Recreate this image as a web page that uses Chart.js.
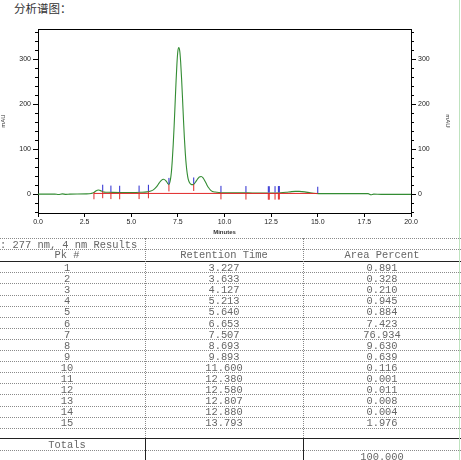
<!DOCTYPE html>
<html>
<head>
<meta charset="utf-8">
<script src="https://cdn.jsdelivr.net/npm/chart.js@4.4.1/dist/chart.umd.min.js"></script>
<style>
  html, body { margin: 0; padding: 0; background: #fff; width: 461px; height: 460px; overflow: hidden; }
  #heading { position: absolute; left: 14px; top: 0px; font: 11.5px "Noto Sans CJK SC", sans-serif; color: #333; line-height: 17px; }
  #plot { position: absolute; left: 0; top: 20px; width: 461px; height: 216px; }
  #results { position: absolute; left: 0; top: 0; width: 461px; height: 460px; font: 10.4px "Liberation Mono", monospace; color: #666; }
  .hd { position: absolute; left: 0; width: 461px; height: 0; border-top: 1px dotted #8a8a8a; }
  .hs { position: absolute; left: 0; width: 461px; height: 0; border-top: 1px solid #222; }
  .vd { position: absolute; width: 0; border-left: 1px dotted #8a8a8a; }
  .vs { position: absolute; width: 0; border-left: 1px solid #222; }
  .c { position: absolute; height: 12px; line-height: 12px; text-align: center; white-space: pre; }
  #edge { position: absolute; left: 459px; top: 0; width: 1px; height: 460px; background: #bfe3bf; }
</style>
</head>
<body>
<div id="heading">分析谱图：</div>
<div id="plot"><canvas id="chrom" width="461" height="216"></canvas></div>
<div id="results"></div>
<div id="edge"></div>
<script>
// Detector trace (minutes, mAU)
const timeMin = [0, 0.9, 1.1, 1.3, 1.5, 1.7, 2.6, 2.85, 3.0, 3.1, 3.25, 3.4, 3.55, 3.8, 4.4, 5.0, 5.5, 5.85,
  6.05, 6.2, 6.35, 6.5, 6.6, 6.73, 6.85, 6.95, 7.02, 7.10, 7.15, 7.20, 7.25, 7.30, 7.35, 7.40, 7.45, 7.50,
  7.55, 7.60, 7.65, 7.70, 7.75, 7.80, 7.85, 7.90, 7.95, 8.00, 8.05, 8.12, 8.20, 8.28, 8.35, 8.45, 8.55,
  8.65, 8.75, 8.85, 8.95, 9.05, 9.15, 9.25, 9.35, 9.5, 9.7, 10.0, 10.5, 11.0, 11.5, 12.0, 12.5, 13.0,
  13.3, 13.6, 13.8, 14.0, 14.3, 14.6, 14.9, 15.2, 16.0, 17.0, 17.7, 17.85, 18.0, 18.4, 19.0, 20.0];
const signalMAU = [0, 0, -1, 0.5, -0.5, 0, 0.5, 1.5, 3.5, 7, 9, 7, 4.5, 4, 3.5, 3.5, 4, 5,
  7, 10, 16, 25, 30, 33, 30, 24, 21, 32, 48, 75, 110, 152, 200, 248, 290, 318,
  326, 318, 293, 256, 212, 166, 124, 90, 64, 46, 34, 26, 22, 21, 22, 27, 33,
  38, 39, 36, 29, 21, 14, 9, 6, 4.5, 3.5, 3, 3, 3, 2.5, 2.5, 2.5, 3,
  4, 5.5, 6, 6, 5, 3, 1.5, 1, 1, 1, 1, -1.5, 0, -0.5, -0.5, -0.5];

// Integration baseline and peak boundary marks
const baselineTimes = [3.0, 15.0];
const baselineMAU = [1.5, 1.5];
const peakStartEnd = [3.47, 3.91, 4.38, 5.42, 5.92, 7.02, 8.35, 9.81, 11.15, 12.35, 12.40, 12.71, 12.89, 12.94];
const redOnlyMarks = [3.0];
const blueOnlyMarks = [15.0];

// Axis ticks
const xTicks = [0, 2.5, 5, 7.5, 10, 12.5, 15, 17.5, 20];
const yTicks = [0, 100, 200, 300];
const yMinorTicks = [-40, -20, 20, 40, 60, 80, 120, 140, 160, 180, 220, 240, 260, 280, 320, 340, 360];

// Results table
const resultsCaption = ': 277 nm, 4 nm Results';
const columnHeads = ['Pk #', 'Retention Time', 'Area Percent'];
const peakNo = [1, 2, 3, 4, 5, 6, 7, 8, 9, 10, 11, 12, 13, 14, 15];
const retentionTime = [3.227, 3.633, 4.127, 5.213, 5.640, 6.653, 7.507, 8.693, 9.893, 11.600, 12.380, 12.580, 12.807, 12.880, 13.793];
const areaPercent = [0.891, 0.328, 0.210, 0.945, 0.884, 7.423, 76.934, 9.630, 0.639, 0.116, 0.001, 0.011, 0.008, 0.004, 1.976];
const totalsLabel = 'Totals';
const totalArea = 100.000;

function signalAt(t) {
  for (let i = 1; i < timeMin.length; i++) {
    if (t <= timeMin[i]) {
      const f = (t - timeMin[i - 1]) / (timeMin[i] - timeMin[i - 1]);
      return signalMAU[i - 1] + f * (signalMAU[i] - signalMAU[i - 1]);
    }
  }
  return signalMAU[signalMAU.length - 1];
}

// blue ticks rise above the trace, red ticks drop below it
function markSegments(times, above) {
  const pts = [];
  times.forEach(t => {
    const v = signalAt(t);
    if (above) { pts.push({ x: t, y: v + 1 }, { x: t, y: v + 15 }); }
    else { pts.push({ x: t, y: v - 15 }, { x: t, y: v }); }
    pts.push({ x: t, y: null });
  });
  return pts;
}

const blueTimes = peakStartEnd.concat(blueOnlyMarks);
const redTimes = redOnlyMarks.concat(peakStartEnd);

const minorTickPlugin = {
  id: 'minorTicks',
  afterDraw(chart) {
    const ctx = chart.ctx;
    ctx.save();
    ctx.strokeStyle = '#000';
    ctx.lineWidth = 1;
    ['y', 'y2'].forEach(id => {
      const s = chart.scales[id];
      yMinorTicks.forEach(v => {
        const py = Math.round(s.getPixelForValue(v)) + 0.5;
        ctx.beginPath();
        if (s.position === 'left') { ctx.moveTo(s.right - 3, py); ctx.lineTo(s.right, py); }
        else { ctx.moveTo(s.left, py); ctx.lineTo(s.left + 3, py); }
        ctx.stroke();
      });
    });
    const a = chart.chartArea;
    ctx.beginPath();
    ctx.moveTo(a.left, Math.round(a.top) + 0.5);
    ctx.lineTo(a.right, Math.round(a.top) + 0.5);
    ctx.stroke();
    ctx.restore();
  }
};

const tickFont = { family: 'Liberation Sans', size: 7 };
const yAxisCommon = {
  type: 'linear', min: -42, max: 367,
  afterBuildTicks: s => { s.ticks = yTicks.map(v => ({ value: v })); },
  ticks: { font: tickFont, color: '#222', padding: 2 },
  grid: { drawOnChartArea: false, tickLength: 5, color: '#000' },
  border: { display: true, color: '#000', width: 1 },
  title: { display: true, text: 'mAU', font: { family: 'Liberation Sans', size: 6 }, color: '#333', padding: 0 }
};

new Chart(document.getElementById('chrom'), {
  type: 'line',
  data: {
    datasets: [
      {
        label: 'signal',
        data: timeMin.map((t, i) => ({ x: t, y: signalMAU[i] })),
        borderColor: '#338c33', borderWidth: 1.1, pointRadius: 0,
        cubicInterpolationMode: 'monotone', order: 1
      },
      {
        label: 'baseline',
        data: baselineTimes.map((t, i) => ({ x: t, y: baselineMAU[i] })),
        borderColor: '#e02828', borderWidth: 1, pointRadius: 0, order: 0
      },
      {
        label: 'start/end',
        data: markSegments(blueTimes, true),
        borderColor: '#2a2ad0', borderWidth: 1, pointRadius: 0, spanGaps: false, order: 0
      },
      {
        label: 'drop',
        data: markSegments(redTimes, false),
        borderColor: '#e02828', borderWidth: 1, pointRadius: 0, spanGaps: false, order: 0
      }
    ]
  },
  options: {
    responsive: false, animation: false, devicePixelRatio: 1,
    layout: { padding: { top: 9, right: 10, left: 0, bottom: 0 } },
    plugins: { legend: { display: false }, tooltip: { enabled: false } },
    scales: {
      x: {
        type: 'linear', min: 0, max: 20, position: 'bottom',
        afterBuildTicks: s => { s.ticks = xTicks.map(v => ({ value: v })); },
        afterFit: s => { s.height = 23; },
        ticks: { font: tickFont, color: '#222', padding: 1, maxRotation: 0, autoSkip: false, callback: v => Number(v).toFixed(1) },
        grid: { drawOnChartArea: false, tickLength: 4, color: '#000' },
        border: { display: true, color: '#000', width: 1 },
        title: { display: true, text: 'Minutes', font: { family: 'Liberation Sans', size: 6, weight: 'bold' }, color: '#333', padding: { top: 0, bottom: 0 } }
      },
      y: Object.assign({}, yAxisCommon, { position: 'left', afterFit: s => { s.width = 38; } }),
      y2: Object.assign({}, yAxisCommon, { position: 'right', afterFit: s => { s.width = 40; } })
    }
  },
  plugins: [minorTickPlugin]
});

// Results table below the chromatogram
(function buildTable() {
  const root = document.getElementById('results');
  const add = (cls, style, text) => {
    const d = document.createElement('div');
    d.className = cls;
    Object.assign(d.style, style);
    if (text !== undefined) d.textContent = text;
    root.appendChild(d);
  };
  const cols = [{ l: -11, w: 156 }, { l: 145, w: 158 }, { l: 303, w: 158 }];
  const rowH = 11.1;
  const firstRowTop = 261.2;
  const cell = (ci, cy, text) => add('c', { left: cols[ci].l + 'px', width: cols[ci].w + 'px', top: (cy - 6) + 'px' }, text);

  add('hd', { top: '238px' });
  add('c', { left: '0px', top: '238.5px', textAlign: 'left' }, resultsCaption);
  add('hd', { top: '249px' });
  columnHeads.forEach((h, i) => cell(i, 255, h));
  add('hs', { top: firstRowTop + 'px' });

  peakNo.forEach((n, i) => {
    const top = firstRowTop + i * rowH;
    const cy = top + 6.8;
    cell(0, cy, String(n));
    cell(1, cy, retentionTime[i].toFixed(3));
    cell(2, cy, areaPercent[i].toFixed(3));
    add('hd', { top: (top + rowH) + 'px' });
  });
  const totalsTop = 438;
  add('hs', { top: totalsTop + 'px' });
  cell(0, 445, totalsLabel);
  add('hd', { top: '450px' });
  cell(2, 457, totalArea.toFixed(3));

  [145, 303].forEach(x => {
    add('vd', { left: x + 'px', top: '238px', height: (totalsTop - 238) + 'px' });
    add('vs', { left: x + 'px', top: totalsTop + 'px', height: (460 - totalsTop) + 'px' });
  });
})();
</script>
</body>
</html>
